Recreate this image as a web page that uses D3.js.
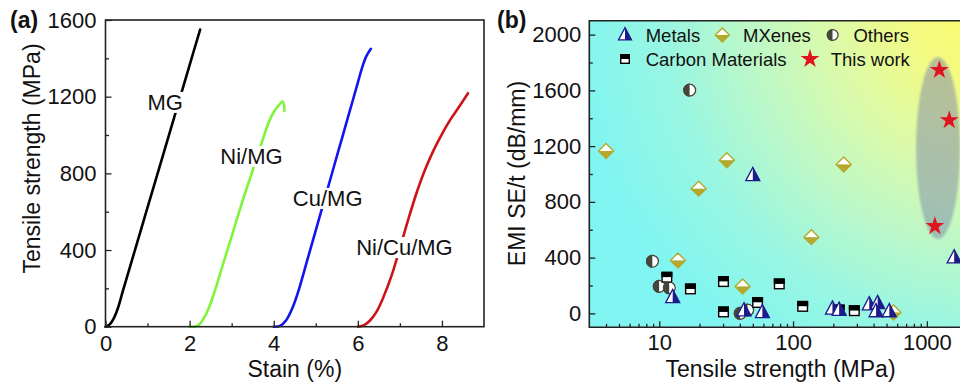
<!DOCTYPE html>
<html>
<head>
<meta charset="utf-8">
<script src="https://cdn.jsdelivr.net/npm/d3@7"></script>
<style>
  body { margin: 0; background: #fff; }
  svg { display: block; font-family: "Liberation Sans", Arial, sans-serif; }
</style>
</head>
<body>
<svg id="chart" width="960" height="384"></svg>
<script>
// ------------------ 1. Data ------------------
// panel (a): stress-strain curves, [strain %, stress MPa]
const curveNames = ["MG", "Ni/MG", "Cu/MG", "Ni/Cu/MG"];
const mgCurve = [[0,0],[0.1,12],[0.2,45],[0.3,100],[0.4,176],[0.6,325],[1.0,622],[1.5,993],[2.0,1365],[2.25,1550]];
const niMgCurve = [[2.0,0],[2.2,6],[2.4,70],[2.56,160],[2.8,330],[3.04,500],[3.28,670],[3.5,815],[3.7,950],[3.88,1065],[4.0,1120],[4.12,1155],[4.21,1175],[4.25,1150],[4.25,1125]];
const cuMgCurve = [[4.0,0],[4.15,4],[4.3,35],[4.45,100],[4.6,195],[4.8,349],[5.0,503],[5.2,657],[5.4,811],[5.6,965],[5.8,1119],[6.0,1273],[6.1,1350],[6.2,1410],[6.31,1450]];
const niCuMgCurve = [[6.0,0],[6.15,8],[6.3,35],[6.45,80],[6.6,150],[6.8,265],[7.0,410],[7.2,560],[7.4,700],[7.6,820],[7.8,920],[8.0,1005],[8.2,1080],[8.4,1145],[8.62,1218]];
const curveColors = ["#000000", "#80f43c", "#1414f0", "#cc1418"];
const curveLabelPos = [[1.0, 1131], [2.73, 849], [4.455, 630], [5.96, 374]]; // strain, stress at label baseline-left

// panel (b): [tensile strength MPa, EMI SE/t dB/mm]
const metals = [[12.6,115],[50,990],[43,20],[59,7],[197,32],[221,24],[371,63],[429,72],[417,14],[524,14],[1600,400]];
const mxenes = [[4,1165],[32,1099],[19.7,895],[239,1068],[137,547],[13.8,379],[42,192],[564,7]];
const others = [[16.9,1602],[8.9,374],[10,194],[11.9,183],[40.3,0],[45.8,24]];
const carbon = [[11.4,259],[17.1,175],[30.2,228],[30.2,10],[54.3,78],[78.9,211],[118,50],[221,24],[287,19]];
const thisWork = [[1240,1746],[1470,1386],[1148,626]];

const aXTicks = [0, 2, 4, 6, 8];
const aXMinor = [1, 3, 5, 7];
const aYTicks = [0, 400, 800, 1200, 1600];
const aYMinor = [200, 600, 1000, 1400];
const bXTicks = [10, 100, 1000];
const bXMinor = [4,5,6,7,8,9,20,30,40,50,60,70,80,90,200,300,400,500,600,700,800,900,2000];
const bYTicks = [0, 400, 800, 1200, 1600, 2000];
const bYMinor = [200, 600, 1000, 1400, 1800];

// ------------------ 2. Setup ------------------
const svg = d3.select("#chart");
const defs = svg.append("defs");
const frameColor = "#222";
const fmt = d3.format("d");

function styleAxis(g) {
  g.select(".domain").remove();
  g.selectAll(".tick line").attr("stroke", frameColor).attr("stroke-width", 1.3);
  g.selectAll(".tick text").attr("fill", "#111").attr("font-size", 22);
}

// ------------------ 3. Panel (a) ------------------
const ax = d3.scaleLinear().domain([0, 9]).range([105.5, 484]);
const ay = d3.scaleLinear().domain([0, 1600]).range([326.7, 20]);

const line = d3.line().x(d => ax(d[0])).y(d => ay(d[1])).curve(d3.curveCatmullRom.alpha(0.5));
const curves = [mgCurve, niMgCurve, cuMgCurve, niCuMgCurve];

svg.append("g").selectAll("path").data(curves).join("path")
  .attr("d", line)
  .attr("fill", "none")
  .attr("stroke", (d, i) => curveColors[i])
  .attr("stroke-width", 2.6)
  .attr("stroke-linecap", "round");

// labels sit on a white box that hides the curve behind them
const lblG = svg.append("g");
curveNames.forEach((name, i) => {
  const [sx, sy] = curveLabelPos[i];
  const t = lblG.append("text")
    .attr("x", ax(sx)).attr("y", ay(sy))
    .attr("font-size", 22).attr("fill", "#111")
    .text(name);
  const bb = t.node().getBBox();
  lblG.insert("rect", "text")
    .attr("x", bb.x - 1).attr("y", bb.y + 2)
    .attr("width", bb.width + 2).attr("height", bb.height - 4)
    .attr("fill", "#fff");
});

svg.append("g").attr("transform", `translate(0,${ay(0)})`)
  .call(d3.axisBottom(ax).tickValues(aXTicks).tickFormat(fmt).tickSize(-6).tickSizeOuter(0).tickPadding(9))
  .call(styleAxis);
svg.append("g").attr("transform", `translate(0,${ay(0)})`)
  .call(d3.axisBottom(ax).tickValues(aXMinor).tickSize(-3.5).tickFormat(""))
  .call(styleAxis);
svg.append("g").attr("transform", `translate(${ax(0)},0)`)
  .call(d3.axisLeft(ay).tickValues(aYTicks).tickFormat(fmt).tickSize(-6).tickSizeOuter(0).tickPadding(9))
  .call(styleAxis);
svg.append("g").attr("transform", `translate(${ax(0)},0)`)
  .call(d3.axisLeft(ay).tickValues(aYMinor).tickSize(-3.5).tickFormat(""))
  .call(styleAxis);

svg.append("rect")
  .attr("x", ax(0)).attr("y", ay(1600))
  .attr("width", ax(9) - ax(0)).attr("height", ay(0) - ay(1600))
  .attr("fill", "none").attr("stroke", frameColor).attr("stroke-width", 1.6);

svg.append("text").attr("x", (ax(0) + ax(9)) / 2).attr("y", 376.5)
  .attr("text-anchor", "middle").attr("font-size", 23).attr("fill", "#111")
  .text("Stain (%)");
svg.append("text").attr("transform", "translate(40,158.5) rotate(-90)")
  .attr("text-anchor", "middle").attr("font-size", 23).attr("fill", "#111")
  .text("Tensile strength (MPa)");
svg.append("text").attr("x", 10).attr("y", 28)
  .attr("font-size", 23).attr("font-weight", "bold").attr("fill", "#111")
  .text("(a)");

// ------------------ 4. Panel (b) ------------------
const bx = d3.scaleLog().domain([3, 3000]).range([589.3, 990.7]);
const by = d3.scaleLinear().domain([-100, 2100]).range([327.3, 20.7]);

// background gradient: yellow in the top-right corner fading to cyan
const grad = defs.append("radialGradient").attr("id", "bgGrad")
  .attr("gradientUnits", "userSpaceOnUse")
  .attr("cx", 990).attr("cy", 5).attr("r", 420);
[[0, "#fafa6a"], [0.18, "#f4fa80"], [0.38, "#dcfaa8"], [0.58, "#bcf8c8"], [0.78, "#98f6e2"], [1, "#80f5f2"]]
  .forEach(([o, c]) => grad.append("stop").attr("offset", o).attr("stop-color", c));

svg.append("rect")
  .attr("x", bx(3)).attr("y", by(2100))
  .attr("width", 960 - bx(3) + 10).attr("height", by(-100) - by(2100))
  .attr("fill", "url(#bgGrad)");

// highlight ellipse round "This work"
defs.append("filter").attr("id", "soft").append("feGaussianBlur").attr("stdDeviation", 1.2);
svg.append("ellipse")
  .attr("cx", 938).attr("cy", 148).attr("rx", 22).attr("ry", 91)
  .attr("fill", "#7c88aa").attr("opacity", 0.5).attr("filter", "url(#soft)");

// markers
const navy = "#1c1c8c", olive = "#b5a82c", darkOl = "#45453a", starRed = "#e0141e";

function triangle(g, x, y, s) {
  const h = s * 0.95;
  const top = [x, y - h * 0.6], bl = [x - s / 2, y + h * 0.4], br = [x + s / 2, y + h * 0.4];
  g.append("path").attr("d", `M${top}L${br}L${bl}Z`).attr("fill", navy);
  g.append("path").attr("d", `M${top}L${[x, bl[1]]}L${bl}Z`).attr("fill", "#fff");
  g.append("path").attr("d", `M${top}L${br}L${bl}Z`).attr("fill", "none").attr("stroke", navy).attr("stroke-width", 1.3);
}
function diamond(g, x, y, s) {
  const r = s / 2;
  g.append("path").attr("d", `M${x - r},${y}L${x},${y - r}L${x + r},${y}Z`).attr("fill", "#fff");
  g.append("path").attr("d", `M${x - r},${y}L${x},${y + r}L${x + r},${y}Z`).attr("fill", olive);
  g.append("path").attr("d", `M${x - r},${y}L${x},${y - r}L${x + r},${y}L${x},${y + r}Z`)
    .attr("fill", "none").attr("stroke", olive).attr("stroke-width", 1.4);
}
function circle(g, x, y, s) {
  const r = s / 2;
  g.append("path").attr("d", `M${x},${y - r}A${r},${r} 0 0 0 ${x},${y + r}Z`).attr("fill", darkOl);
  g.append("path").attr("d", `M${x},${y - r}A${r},${r} 0 0 1 ${x},${y + r}Z`).attr("fill", "#fff");
  g.append("circle").attr("cx", x).attr("cy", y).attr("r", r - 0.6)
    .attr("fill", "none").attr("stroke", darkOl).attr("stroke-width", 1.3);
}
function square(g, x, y, s) {
  const r = s / 2;
  g.append("rect").attr("x", x - r).attr("y", y - r).attr("width", s).attr("height", s / 2).attr("fill", "#000");
  g.append("rect").attr("x", x - r).attr("y", y).attr("width", s).attr("height", s / 2).attr("fill", "#fff");
  g.append("rect").attr("x", x - r + 0.7).attr("y", y - r + 0.7).attr("width", s - 1.4).attr("height", s - 1.4)
    .attr("fill", "none").attr("stroke", "#000").attr("stroke-width", 1.4);
}
const starPath = d3.symbol(d3.symbolStar);
function star(g, x, y, s) {
  g.append("path").attr("d", starPath.size(s)()).attr("transform", `translate(${x},${y})`).attr("fill", starRed);
}

const pts = svg.append("g");
others.forEach(d => circle(pts, bx(d[0]), by(d[1]), 13));
carbon.forEach(d => square(pts, bx(d[0]), by(d[1]), 11));
mxenes.forEach(d => diamond(pts, bx(d[0]), by(d[1]), 15));
metals.forEach(d => triangle(pts, bx(d[0]), by(d[1]), 14));
thisWork.forEach(d => star(pts, bx(d[0]), by(d[1]), 110));

// axes
svg.append("g").attr("transform", `translate(0,${by(-100)})`)
  .call(d3.axisBottom(bx).tickValues(bXTicks).tickFormat(fmt).tickSize(-6).tickSizeOuter(0).tickPadding(7))
  .call(styleAxis);
svg.append("g").attr("transform", `translate(0,${by(-100)})`)
  .call(d3.axisBottom(bx).tickValues(bXMinor).tickSize(-3.5).tickFormat(""))
  .call(styleAxis);
svg.append("g").attr("transform", `translate(${bx(3)},0)`)
  .call(d3.axisLeft(by).tickValues(bYTicks).tickFormat(fmt).tickSize(-6).tickSizeOuter(0).tickPadding(8))
  .call(styleAxis);
svg.append("g").attr("transform", `translate(${bx(3)},0)`)
  .call(d3.axisLeft(by).tickValues(bYMinor).tickSize(-3.5).tickFormat(""))
  .call(styleAxis);

svg.append("path")
  .attr("d", `M970,${by(2100)}H${bx(3)}V${by(-100)}H970`)
  .attr("fill", "none").attr("stroke", frameColor).attr("stroke-width", 1.6);

// legend
const leg = svg.append("g").attr("font-size", 18.5).attr("fill", "#111");
const legendRows = [
  [625, 35, triangle, 13, "Metals"], [722.3, 35, diamond, 14, "MXenes"], [832.7, 35, circle, 12, "Others"],
  [625, 59, square, 10, "Carbon Materials"], [810, 59, star, 110, "This work"]
];
legendRows.forEach(([x, y, fn, s, name]) => {
  fn(leg, x, y, s);
  leg.append("text").attr("x", x + 20.7).attr("y", y + 6.5).text(name);
});

svg.append("text").attr("x", 780.5).attr("y", 377)
  .attr("text-anchor", "middle").attr("font-size", 23).attr("fill", "#111")
  .text("Tensile strength (MPa)");
svg.append("text").attr("transform", "translate(525,173.5) rotate(-90)")
  .attr("text-anchor", "middle").attr("font-size", 23).attr("fill", "#111")
  .text("EMI SE/t (dB/mm)");
svg.append("text").attr("x", 497).attr("y", 28)
  .attr("font-size", 23).attr("font-weight", "bold").attr("fill", "#111")
  .text("(b)");
</script>
</body>
</html>
